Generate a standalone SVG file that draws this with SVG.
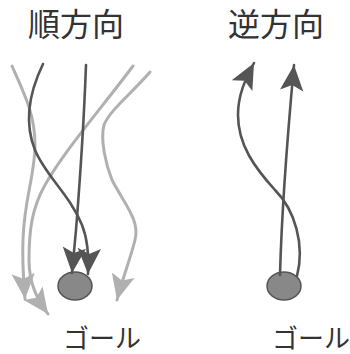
<svg xmlns="http://www.w3.org/2000/svg" width="350" height="354" viewBox="0 0 350 354">
<style>
.t{font-family:"Noto Sans CJK JP","Noto Sans",sans-serif;fill:#333}
.title{font-size:32px}
.lab{font-size:26px}
.d{fill:none;stroke:#555;stroke-width:2.6;stroke-linecap:round}
.l{fill:none;stroke:#b0b0b0;stroke-width:3;stroke-linecap:round}
.goal{fill:#888;stroke:#555;stroke-width:1.5}
</style>
<defs>
<marker id="ad" markerUnits="userSpaceOnUse" markerWidth="30" markerHeight="30" viewBox="-25 -12 27 24" refX="0" refY="0" orient="auto">
<path d="M0,0 L-23,-10.5 L-18,0 L-23,10.5 Z" fill="#555"/>
</marker>
<marker id="al" markerUnits="userSpaceOnUse" markerWidth="30" markerHeight="30" viewBox="-25 -12 27 24" refX="0" refY="0" orient="auto">
<path d="M0,0 L-23,-10.5 L-18,0 L-23,10.5 Z" fill="#b0b0b0"/>
</marker>
</defs>
<g id="title-forward"><text class="t title" x="28" y="36">順方向</text></g>
<g id="title-reverse"><text class="t title" x="228" y="36">逆方向</text></g>
<g id="goal-left"><ellipse class="goal" cx="75" cy="286" rx="17" ry="14"/><text class="t lab" x="63" y="348">ゴール</text></g>
<g id="goal-right"><ellipse class="goal" cx="284" cy="286" rx="17" ry="14"/><text class="t lab" x="272" y="348">ゴール</text></g>
<g id="connectors">
<path class="l" d="M12,66 C25,95 35,115 35,145 C35,175 24,200 23,240 C22,265 24,285 25,299" marker-end="url(#al)"/>
<path class="l" d="M133,66 C100,110 65,150 45,185 C32,208 29,230 29,260 C29,285 38,300 48,314" marker-end="url(#al)"/>
<path class="l" d="M150,72 C130,95 110,110 104,125 C100,140 106,165 112,180 C125,205 140,220 135,240 C130,260 122,280 117,300" marker-end="url(#al)"/>
<path class="d" d="M43,64 C28,95 25,125 35,150 C45,175 70,195 82,225 C88,240 89,255 88,274" marker-end="url(#ad)"/>
<path class="d" d="M86,65 C84,120 80,180 76,230 L72,273" marker-end="url(#ad)"/>
<path class="d" d="M297,276 C305,245 295,210 275,190 C255,168 238,145 238,115 C238,95 245,80 254,63" marker-end="url(#ad)"/>
<path class="d" d="M280,275 C282,200 288,130 294,65" marker-end="url(#ad)"/>
</g>
</svg>
